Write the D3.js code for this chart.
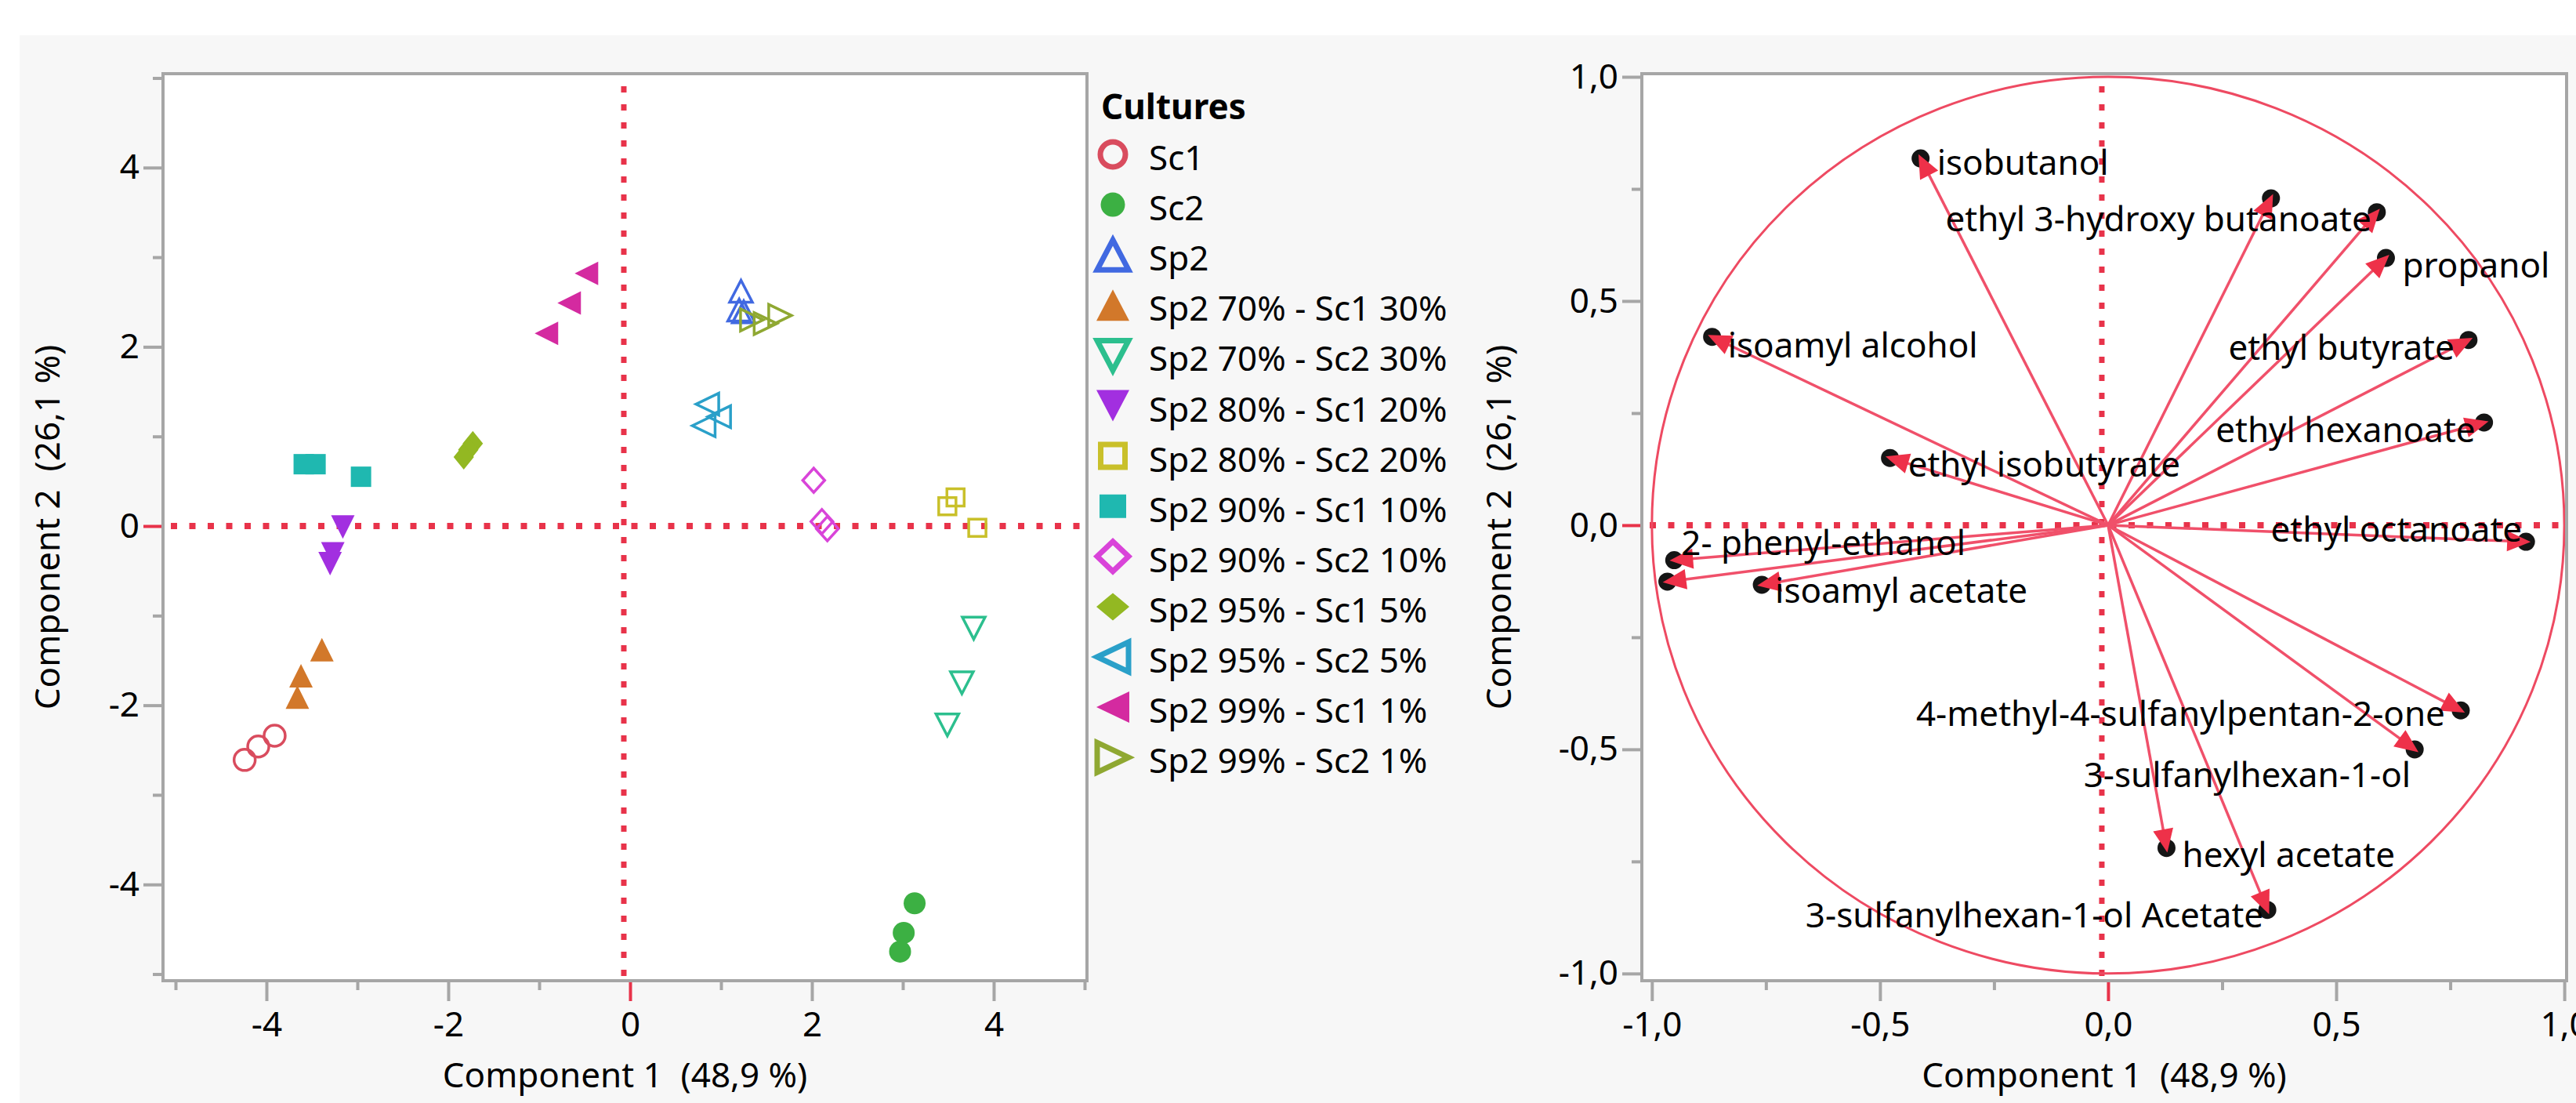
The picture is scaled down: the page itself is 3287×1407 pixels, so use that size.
<!DOCTYPE html>
<html><head><meta charset="utf-8">
<script src="https://cdn.jsdelivr.net/npm/d3@7"></script>
<style>html,body{margin:0;padding:0;background:#fff;overflow:hidden}</style>
</head><body><svg id="c" width="3287" height="1407"></svg>
<script>
// ---------- DATA ----------
const cultures = ["Sc1","Sc2","Sp2","Sp2 70% - Sc1 30%","Sp2 70% - Sc2 30%","Sp2 80% - Sc1 20%",
  "Sp2 80% - Sc2 20%","Sp2 90% - Sc1 10%","Sp2 90% - Sc2 10%","Sp2 95% - Sc1 5%",
  "Sp2 95% - Sc2 5%","Sp2 99% - Sc1 1%","Sp2 99% - Sc2 1%"];
const scoreX = [
  [-3.91,-4.09,-4.24],
  [3.13,3.01,2.97],
  [1.22,1.20,1.25],
  [-3.39,-3.62,-3.66],
  [3.78,3.65,3.49],
  [-3.16,-3.27,-3.30],
  [3.58,3.49,3.82],
  [-3.59,-3.46,-2.96],
  [2.02,2.11,2.17],
  [-1.73,-1.78,-1.83],
  [0.85,0.81,0.98],
  [-0.48,-0.67,-0.92],
  [1.65,1.49,1.34]];
const scoreY = [
  [-2.34,-2.46,-2.61],
  [-4.21,-4.54,-4.75],
  [2.62,2.41,2.39],
  [-1.38,-1.67,-1.91],
  [-1.14,-1.75,-2.22],
  [-0.01,-0.31,-0.42],
  [0.32,0.22,-0.02],
  [0.69,0.69,0.55],
  [0.51,0.05,-0.03],
  [0.92,0.85,0.77],
  [1.36,1.12,1.22],
  [2.82,2.49,2.15],
  [2.35,2.26,2.30]];

const variables = ["isobutanol","","ethyl 3-hydroxy butanoate","propanol","isoamyl alcohol",
  "ethyl butyrate","ethyl hexanoate","ethyl isobutyrate","ethyl octanoate","2- phenyl-ethanol","",
  "isoamyl acetate","4-methyl-4-sulfanylpentan-2-one","3-sulfanylhexan-1-ol","hexyl acetate",
  "3-sulfanylhexan-1-ol Acetate"];
const loadX = [-0.411,0.357,0.589,0.609,-0.868,0.790,0.824,-0.478,0.916,-0.951,-0.966,-0.759,0.773,0.672,0.128,0.349];
const loadY = [0.818,0.729,0.698,0.596,0.420,0.413,0.229,0.150,-0.037,-0.078,-0.126,-0.133,-0.413,-0.500,-0.720,-0.858];

const scoreTicks = [-4,-2,0,2,4];
const scoreTickLabels = ["-4","-2","0","2","4"];
const scoreMinor = [-5,-3,-1,1,3,5];
const loadTicks = [-1,-0.5,0,0.5,1];
const loadTickLabels = ["-1,0","-0,5","0,0","0,5","1,0"];
const loadMinor = [-0.75,-0.25,0.25,0.75];
const xTitle = "Component 1\u00a0 (48,9 %)";
const yTitle = "Component 2\u00a0 (26,1 %)";
const legendTitle = "Cultures";

// ---------- STYLE ----------
const FONT = "'Noto Sans','Open Sans','DejaVu Sans',sans-serif";
const FS = 44;
const RED = "#e8334a";
const GRAY = "#a6a6a6";
const markerStyle = [
  {t:"circle", f:false, c:"#d94c5e"},
  {t:"circle", f:true,  c:"#3cb043"},
  {t:"up",     f:false, c:"#4169e1"},
  {t:"up",     f:true,  c:"#d2782a"},
  {t:"down",   f:false, c:"#2cbf8e"},
  {t:"down",   f:true,  c:"#a22fe0"},
  {t:"square", f:false, c:"#c9c02a"},
  {t:"square", f:true,  c:"#1fb8b0"},
  {t:"diamond",f:false, c:"#d944d9"},
  {t:"diamond",f:true,  c:"#93b822"},
  {t:"left",   f:false, c:"#2aa0c9"},
  {t:"left",   f:true,  c:"#d42aa0"},
  {t:"right",  f:false, c:"#8fa832"}];
// label placement: [anchor, dx, dy(baseline)]
const labelPlace = {
  "isobutanol":["start",21,21],
  "ethyl 3-hydroxy butanoate":["end",-7,24],
  "propanol":["start",21,25],
  "isoamyl alcohol":["start",20,26],
  "ethyl butyrate":["end",-18,25],
  "ethyl hexanoate":["end",-11,25],
  "ethyl isobutyrate":["start",23,24],
  "ethyl octanoate":["end",-5,0],
  "2- phenyl-ethanol":["start",9,-7],
  "isoamyl acetate":["start",17,23],
  "4-methyl-4-sulfanylpentan-2-one":["end",-20,20],
  "3-sulfanylhexan-1-ol":["end",-5,48],
  "hexyl acetate":["start",20,24],
  "3-sulfanylhexan-1-ol Acetate":["end",-5,22]};

function shapePath(t, w, h){
  const a=w/2, b=h/2;
  switch(t){
    case "circle": return `M${-a},0A${a},${b} 0 1,0 ${a},0A${a},${b} 0 1,0 ${-a},0Z`;
    case "up": return `M0,${-b}L${a},${b}L${-a},${b}Z`;
    case "down": return `M0,${b}L${a},${-b}L${-a},${-b}Z`;
    case "left": return `M${-a},0L${a},${-b}L${a},${b}Z`;
    case "right": return `M${a},0L${-a},${-b}L${-a},${b}Z`;
    case "square": return `M${-a},${-b}H${a}V${b}H${-a}Z`;
    case "diamond": return `M0,${-b}L${a},0L0,${b}L${-a},0Z`;
  }
}
function plotSize(s){
  if(s.t==="circle") return s.f?[28,28]:[27,27];
  if(s.t==="square") return s.f?[26,26]:[22,22];
  if(s.t==="diamond") return s.f?[26,32]:[28,31];
  return s.f?[30,30]:[29,28];
}
function legendSize(s){
  if(s.t==="circle") return s.f?[31,31]:[32,32];
  if(s.t==="square") return s.f?[34,30]:[31,29];
  if(s.t==="diamond") return s.f?[42,35]:[40,38];
  return s.f?[42,40]:[40,38];
}

// ---------- DRAW ----------
const svg = d3.select("#c").attr("font-family",FONT);
svg.append("rect").attr("width",3287).attr("height",1407).attr("fill","#fff");
svg.append("rect").attr("x",25).attr("y",45).attr("width",3262).attr("height",1362).attr("fill","#f7f7f7");

const LF = {x0:208,x1:1387,y0:94,y1:1251};
const RF = {x0:2095,x1:3275,y0:94,y1:1251};
const xL = d3.scaleLinear().domain([-5.138,5.026]).range([LF.x0,LF.x1]);
const yL = d3.scaleLinear().domain([-5.074,5.048]).range([LF.y1,LF.y0]);
const xR = d3.scaleLinear().domain([-1.022,1.005]).range([RF.x0,RF.x1]);
const yR = d3.scaleLinear().domain([-1.016,1.007]).range([RF.y1,RF.y0]);

function axes(F, xs, ys, xt, xl, xm, yt, yl, ym, ytitleX){
  svg.append("rect").attr("x",F.x0).attr("y",F.y0).attr("width",F.x1-F.x0).attr("height",F.y1-F.y0).attr("fill","#fff");
  const list = [];
  list.push(svg.append("g").attr("transform",`translate(0,${F.y1})`)
    .call(d3.axisBottom(xs).tickValues(xm).tickSize(12).tickFormat("")));
  list.push(svg.append("g").attr("transform",`translate(0,${F.y1})`)
    .call(d3.axisBottom(xs).tickValues(xt).tickSize(26).tickPadding(14).tickFormat((d,i)=>xl[i])));
  list.push(svg.append("g").attr("transform",`translate(${F.x0},0)`)
    .call(d3.axisLeft(ys).tickValues(ym).tickSize(13).tickFormat("")));
  list.push(svg.append("g").attr("transform",`translate(${F.x0},0)`)
    .call(d3.axisLeft(ys).tickValues(yt).tickSize(25).tickPadding(5).tickFormat((d,i)=>yl[i])));
  list.forEach(a=>{
    a.select(".domain").remove();
    a.selectAll(".tick line").attr("stroke",d=>d===0?RED:GRAY).attr("stroke-width",4);
    a.selectAll(".tick text").attr("font-family",FONT).attr("font-size",FS).attr("fill","#000");
  });
  svg.append("text").attr("x",(F.x0+F.x1)/2).attr("y",1387).attr("text-anchor","middle")
    .attr("font-size",FS).attr("fill","#000").text(xTitle);
  svg.append("text").attr("transform",`translate(${ytitleX},${(F.y0+F.y1)/2}) rotate(-90)`)
    .attr("text-anchor","middle").attr("font-size",FS).attr("fill","#000").text(yTitle);
  // reference lines
  svg.append("line").attr("x1",xs(0)-8).attr("x2",xs(0)-8).attr("y1",F.y0+16).attr("y2",F.y1)
    .attr("stroke",RED).attr("stroke-width",7).attr("stroke-dasharray","8,15");
  svg.append("line").attr("x1",F.x0+10).attr("x2",F.x1).attr("y1",ys(0)).attr("y2",ys(0))
    .attr("stroke",RED).attr("stroke-width",8).attr("stroke-dasharray","8,15.5");
}

axes(LF, xL, yL, scoreTicks, scoreTickLabels, scoreMinor, scoreTicks, scoreTickLabels, scoreMinor, 76);
axes(RF, xR, yR, loadTicks, loadTickLabels, loadMinor, loadTicks, loadTickLabels, loadMinor, 1928);

// score points
const gp = svg.append("g");
cultures.forEach((name,i)=>{
  const s = markerStyle[i];
  const [w,h] = plotSize(s);
  scoreX[i].forEach((vx,j)=>{
    gp.append("path").attr("d",shapePath(s.t,w,h))
      .attr("transform",`translate(${xL(vx)},${yL(scoreY[i][j])})`)
      .attr("fill",s.f?s.c:"none").attr("stroke",s.f?"none":s.c).attr("stroke-width",3.5);
  });
});

// legend
const lg = svg.append("g");
lg.append("text").attr("x",1405).attr("y",152).attr("font-size",FS).attr("font-weight","bold")
  .attr("fill","#000").text(legendTitle);
cultures.forEach((name,i)=>{
  const s = markerStyle[i];
  const [w,h] = legendSize(s);
  const cy = 197 + 64.1*i;
  lg.append("path").attr("d",shapePath(s.t,w,h)).attr("transform",`translate(1420,${cy})`)
    .attr("fill",s.f?s.c:"none").attr("stroke",s.f?"none":s.c).attr("stroke-width",7);
  lg.append("text").attr("x",1466).attr("y",cy+20).attr("font-size",FS).attr("fill","#000").text(name);
});

// loading circle
const ox = xR(0), oy = yR(0);
svg.append("ellipse").attr("cx",ox).attr("cy",oy).attr("rx",xR(1)-ox).attr("ry",oy-yR(1))
  .attr("fill","none").attr("stroke","#ee4a62").attr("stroke-width",3);
const ga = svg.append("g");
variables.forEach((v,i)=>{
  ga.append("line").attr("x1",ox).attr("y1",oy).attr("x2",xR(loadX[i])).attr("y2",yR(loadY[i]))
    .attr("stroke","#f0506a").attr("stroke-width",3.5);
});
variables.forEach((v,i)=>{
  ga.append("circle").attr("cx",xR(loadX[i])).attr("cy",yR(loadY[i])).attr("r",11.5).attr("fill","#151515");
});
variables.forEach((v,i)=>{
  const px=xR(loadX[i]), py=yR(loadY[i]);
  const dx=px-ox, dy=py-oy, L=Math.hypot(dx,dy), ux=dx/L, uy=dy/L;
  const tx=px+6*ux, ty=py+6*uy, bx=tx-30*ux, by=ty-30*uy, nx=-uy, ny=ux;
  ga.append("path").attr("d",`M${tx},${ty}L${bx+13*nx},${by+13*ny}L${bx-13*nx},${by-13*ny}Z`)
    .attr("fill","#ee3149");
});
variables.forEach((v,i)=>{
  if(!v) return;
  const p = labelPlace[v];
  ga.append("text").attr("x",xR(loadX[i])+p[1]).attr("y",yR(loadY[i])+p[2])
    .attr("text-anchor",p[0]).attr("font-size",FS).attr("fill","#000").text(v);
});

// frames
[LF,RF].forEach(F=>{
  svg.append("rect").attr("x",F.x0).attr("y",F.y0).attr("width",F.x1-F.x0).attr("height",F.y1-F.y0)
    .attr("fill","none").attr("stroke",GRAY).attr("stroke-width",4);
});
</script></body></html>
